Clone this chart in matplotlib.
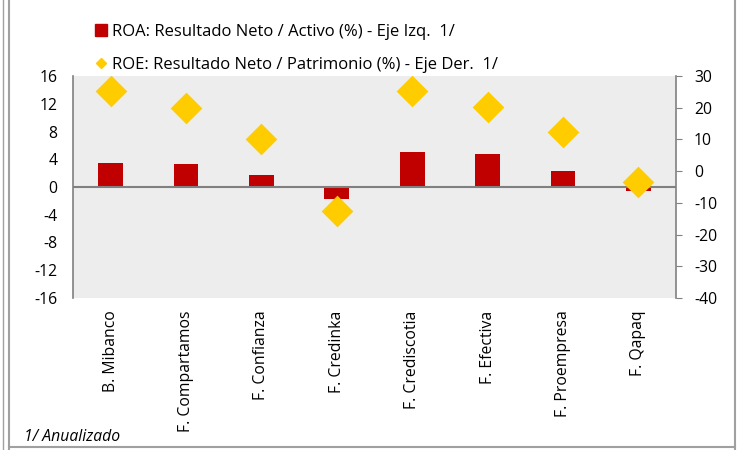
import matplotlib.pyplot as plt
import numpy as np
from matplotlib.lines import Line2D

plt.rcParams['font.family'] = ['Open Sans', 'DejaVu Sans']
plt.rcParams['axes.unicode_minus'] = False

# Data
entidades = ['B. Mibanco', 'F. Compartamos', 'F. Confianza', 'F. Credinka',
             'F. Crediscotia', 'F. Efectiva', 'F. Proempresa', 'F. Qapaq']
roa = [3.5, 3.3, 1.7, -1.7, 5.0, 4.8, 2.3, -0.6]
roe = [25.2, 19.9, 10.1, -12.6, 25.3, 20.3, 12.2, -3.5]

fig = plt.figure(figsize=(7.41, 4.5), dpi=100)
ax = fig.add_axes([73/741, 1 - 298/450, (676-73)/741, (298-76)/450])
ax.set_facecolor('#EDEDED')

x = np.arange(len(entidades))
ax.bar(x, roa, width=0.33, color='#C00000', zorder=2)
ax.axhline(0, color='#808080', lw=1.5, zorder=3)
ax.set_ylim(-16, 16)
ax.set_yticks(np.arange(-16, 17, 4))
ax.set_xlim(-0.5, len(entidades) - 0.5)
ax.set_xticks(x)
ax.set_xticklabels(entidades, rotation=90, fontsize=11.3)
ax.tick_params(axis='x', length=0, pad=9)
ax.tick_params(axis='y', length=0, labelsize=11.3, pad=11)
for s in ['top', 'right', 'bottom']:
    ax.spines[s].set_visible(False)
ax.spines['left'].set_color('#808080')
ax.spines['left'].set_linewidth(1.2)

ax2 = ax.twinx()
ax2.scatter(x, roe, marker='D', s=260, color='#FFCC00', zorder=4, linewidths=0)
ax2.set_ylim(-40, 30)
ax2.set_yticks(np.arange(-40, 31, 10))
ax2.tick_params(axis='y', labelsize=11.3, length=4, color='#808080', pad=9)
for s in ['top', 'left', 'bottom']:
    ax2.spines[s].set_visible(False)
ax2.spines['right'].set_color('#808080')
ax2.spines['right'].set_linewidth(1.2)

# legend
handles = [Line2D([], [], marker='s', ls='', color='#C00000', markersize=8),
           Line2D([], [], marker='D', ls='', color='#FFCC00', markersize=5)]
labels = ['ROA: Resultado Neto / Activo (%) - Eje Izq.  1/',
          'ROE: Resultado Neto / Patrimonio (%) - Eje Der.  1/']
fig.legend(handles, labels, loc='upper left', bbox_to_anchor=(78/741, 1 - 9/450),
           frameon=False, fontsize=12, handletextpad=0.15, handlelength=1,
           labelspacing=1.0)

fig.text(24/741, 1 - 437/450, '1/ Anualizado', fontsize=11.3, style='italic', va='center')

# frame
fig.add_artist(Line2D([9/741, 9/741], [0, 1], color='#A0A0A0', lw=1.5))
fig.add_artist(Line2D([3/741, 3/741], [0, 1], color='#A0A0A0', lw=1))
fig.add_artist(Line2D([735/741, 735/741], [0, 1], color='#A0A0A0', lw=1.5))
fig.add_artist(Line2D([9/741, 735/741], [1 - 447/450, 1 - 447/450], color='#A0A0A0', lw=1.5))

fig.savefig('out.png', dpi=100)
